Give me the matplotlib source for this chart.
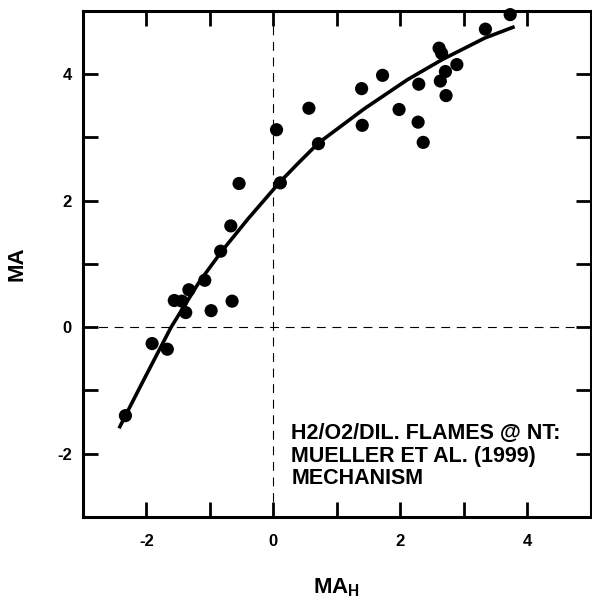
import matplotlib
matplotlib.use("Agg")
import matplotlib.pyplot as plt

plt.rcParams['font.family'] = ['Liberation Sans', 'DejaVu Sans']
plt.rcParams['font.weight'] = 'bold'
plt.rcParams['axes.unicode_minus'] = False
plt.rcParams['mathtext.fontset'] = 'custom'
plt.rcParams['mathtext.rm'] = 'Liberation Sans:bold'
plt.rcParams['mathtext.bf'] = 'Liberation Sans:bold'

# measured points (MA_H, MA)
ma_h = [0.05, -0.54, 0.11, -0.67, -0.83, -1.08, -1.33, -1.56, -1.44, -1.38,
        -0.98, -0.65, -1.91, -1.67, -2.33, 0.56, 0.71, 1.39, 1.40, 1.72,
        1.98, 2.29, 2.28, 2.36, 2.61, 2.65, 2.89, 2.71, 2.63, 2.72,
        3.34, 3.73]
ma = [3.12, 2.27, 2.28, 1.60, 1.20, 0.74, 0.59, 0.42, 0.41, 0.23,
      0.26, 0.41, -0.26, -0.35, -1.40, 3.46, 2.90, 3.77, 3.19, 3.98,
      3.44, 3.84, 3.24, 2.92, 4.41, 4.33, 4.15, 4.04, 3.89, 3.66,
      4.71, 4.94]

# fitted curve
fit_x = [-2.43, -2.33, -2.06, -1.61, -1.17, -0.82, -0.40, 0.10, 0.39,
         0.71, 1.43, 2.11, 2.66, 3.33, 3.80]
fit_y = [-1.60, -1.40, -0.87, 0.00, 0.71, 1.19, 1.71, 2.29, 2.59,
         2.91, 3.45, 3.91, 4.23, 4.57, 4.75]

label_text = "H2/O2/DIL. FLAMES @ NT:\nMUELLER ET AL. (1999)\nMECHANISM"

fig = plt.figure(figsize=(5.92, 6.01), dpi=100)
ax = fig.add_axes([0.140, 0.140, 0.858, 0.842])

ax.axvline(0, color='k', lw=0.8, ls=(0, (8, 6)), zorder=1)
ax.axhline(0, color='k', lw=0.8, ls=(0, (8, 6)), zorder=1)

ax.plot(fit_x, fit_y, color='k', lw=2.6, solid_capstyle='butt', zorder=2)
ax.scatter(ma_h, ma, s=90, color='k', edgecolors='none', zorder=3, clip_on=False)

ax.set_xlim(-3, 5)
ax.set_ylim(-3, 5)
ax.set_xticks([-2, 0, 2, 4])
ax.set_yticks([-2, 0, 2, 4])
ax.set_xticks([-1, 1, 3], minor=True)
ax.set_yticks([-1, 1, 3], minor=True)
ax.tick_params(which='both', direction='in', length=11, width=2,
               top=True, right=True, labelsize=12)
ax.tick_params(axis='x', pad=12)
ax.tick_params(axis='y', pad=8)
for sp in ax.spines.values():
    sp.set_linewidth(2.2)

ax.set_xlabel(r"MA$_\mathrm{H}$", fontsize=16, fontweight='bold', labelpad=20)
ax.set_ylabel("MA", fontsize=16, fontweight='bold', labelpad=21)

ax.text(0.28, -1.52, label_text, fontsize=15.5, fontweight='bold',
        ha='left', va='top', linespacing=1.1)

fig.savefig("out.png", dpi=100)
